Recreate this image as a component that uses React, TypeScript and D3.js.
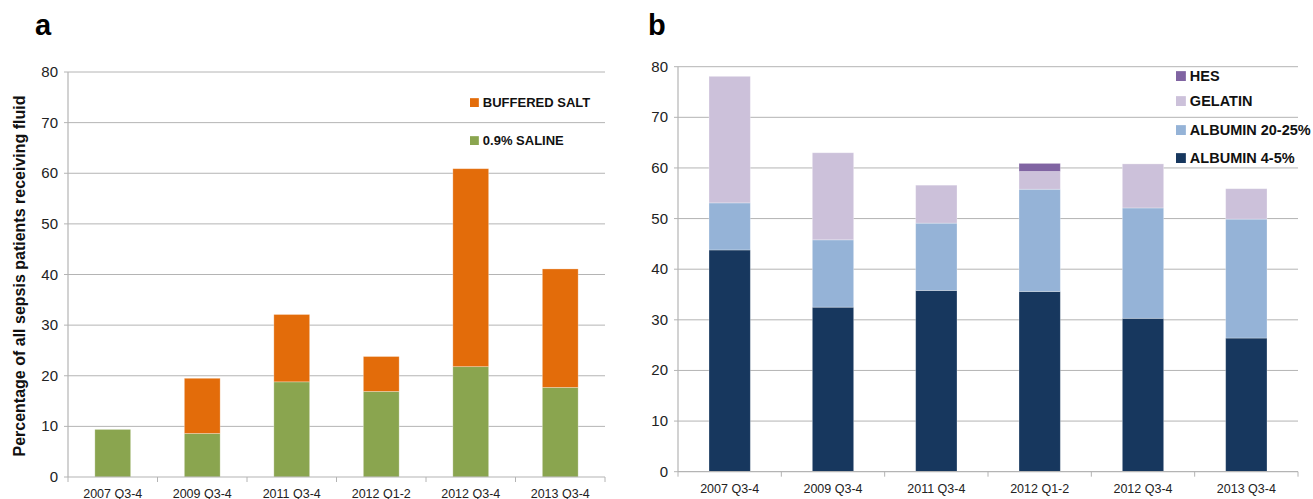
import React from "react";
import * as d3 from "d3";

// Categories shared by both panels
const periods = ["2007 Q3-4", "2009 Q3-4", "2011 Q3-4", "2012 Q1-2", "2012 Q3-4", "2013 Q3-4"];

// Panel a: crystalloids (% of sepsis patients receiving fluid)
const saline = [9.4, 8.6, 18.8, 16.9, 21.8, 17.7];
const bufferedSalt = [0, 10.9, 13.3, 6.9, 39.1, 23.4];

// Panel b: colloids
const albumin45 = [43.8, 32.5, 35.8, 35.6, 30.3, 26.4];
const albumin2025 = [9.3, 13.3, 13.3, 20.2, 21.8, 23.5];
const gelatin = [25.0, 17.2, 7.5, 3.5, 8.7, 6.0];
const hes = [0, 0, 0, 1.6, 0, 0];

const yTicks = [0, 10, 20, 30, 40, 50, 60, 70, 80];

const FONT = "'Liberation Sans', Arial, sans-serif";
const GRID = "#b4b4b4";

type Series = { key: string; label: string; color: string; values: number[] };

const seriesA: Series[] = [
  { key: "saline", label: "0.9% SALINE", color: "#8aa54f", values: saline },
  { key: "buffered", label: "BUFFERED SALT", color: "#e36c0a", values: bufferedSalt },
];

const seriesB: Series[] = [
  { key: "alb45", label: "ALBUMIN 4-5%", color: "#17375e", values: albumin45 },
  { key: "alb2025", label: "ALBUMIN 20-25%", color: "#95b3d7", values: albumin2025 },
  { key: "gelatin", label: "GELATIN", color: "#ccc1da", values: gelatin },
  { key: "hes", label: "HES", color: "#8064a2", values: hes },
];

type PanelProps = {
  series: Series[];
  x0: number;
  x1: number;
  yTop: number;
  yBottom: number;
  letter: string;
  letterX: number;
  legendX: number;
  legendYs: number[];
  legendFont: number;
  xLabelY: number;
  yTitle?: string;
};

function Panel(p: PanelProps) {
  const x = d3.scaleBand<string>().domain(periods).range([p.x0, p.x1]).paddingInner(0.6).paddingOuter(0.3);
  const y = d3.scaleLinear().domain([0, 80]).range([p.yBottom, p.yTop]);
  const rows = periods.map((c, i) => {
    const r: Record<string, number | string> = { cat: c };
    p.series.forEach((s) => (r[s.key] = s.values[i]));
    return r;
  });
  const stacked = d3.stack<Record<string, number | string>>().keys(p.series.map((s) => s.key))(rows as any);
  const step = x.step();
  const boundaries = d3.range(periods.length + 1).map((i) => p.x0 + i * step);
  const legendOrder = [...p.series].reverse();
  const sq = p.legendFont * 0.68;

  return (
    <g>
      <text x={p.letterX} y={35} fontFamily={FONT} fontWeight="bold" fontSize={29}>
        {p.letter}
      </text>
      {/* gridlines */}
      {yTicks.map((t) =>
        t === 0 ? null : (
          <line key={t} x1={p.x0} x2={p.x1} y1={y(t)} y2={y(t)} stroke={GRID} strokeWidth={1} />
        )
      )}
      {/* y axis */}
      <line x1={p.x0} x2={p.x0} y1={p.yTop} y2={p.yBottom} stroke={GRID} strokeWidth={1.2} />
      {yTicks.map((t) => (
        <g key={t}>
          <line x1={p.x0 - 4} x2={p.x0} y1={y(t)} y2={y(t)} stroke={GRID} />
          <text x={p.x0 - 10} y={y(t) + 5} textAnchor="end" fontFamily={FONT} fontSize={15} fill="#222">
            {t}
          </text>
        </g>
      ))}
      {/* bars */}
      {stacked.map((layer, li) => (
        <g key={layer.key} fill={p.series[li].color}>
          {layer.map((d, i) =>
            d[1] - d[0] > 0 ? (
              <rect
                key={i}
                x={x(periods[i])!}
                width={x.bandwidth()}
                y={y(d[1])}
                height={y(d[0]) - y(d[1])}
                stroke="#ffffff"
                strokeOpacity={0.35}
                strokeWidth={0.8}
              />
            ) : null
          )}
        </g>
      ))}
      {/* x axis */}
      <line x1={p.x0} x2={p.x1} y1={p.yBottom} y2={p.yBottom} stroke={GRID} strokeWidth={1.2} />
      {boundaries.map((b, i) => (
        <line key={i} x1={b} x2={b} y1={p.yBottom} y2={p.yBottom + 5} stroke={GRID} />
      ))}
      {periods.map((c) => (
        <text
          key={c}
          x={x(c)! + x.bandwidth() / 2}
          y={p.xLabelY}
          textAnchor="middle"
          fontFamily={FONT}
          fontSize={12.5}
          fill="#222"
        >
          {c}
        </text>
      ))}
      {/* legend */}
      {legendOrder.map((s, i) => (
        <g key={s.key}>
          <rect x={p.legendX} y={p.legendYs[i] - sq} width={sq} height={sq} fill={s.color} />
          <text
            x={p.legendX + sq + 4}
            y={p.legendYs[i]}
            fontFamily={FONT}
            fontWeight="bold"
            fontSize={p.legendFont}
            fill="#111"
          >
            {s.label}
          </text>
        </g>
      ))}
      {p.yTitle ? (
        <text
          transform={`translate(25, 276) rotate(-90)`}
          textAnchor="middle"
          fontFamily={FONT}
          fontWeight="bold"
          fontSize={16}
          fill="#111"
        >
          {p.yTitle}
        </text>
      ) : null}
    </g>
  );
}

export default function App() {
  return (
    <svg
      width={1313}
      height={499}
      style={{ position: "absolute", left: 0, top: 0, background: "#fff" }}
    >
      <rect width={1313} height={499} fill="#fff" />
      <Panel
        series={seriesA}
        x0={68}
        x1={605}
        yTop={72}
        yBottom={477}
        letter="a"
        letterX={35}
        legendX={470}
        legendYs={[107, 145]}
        legendFont={13}
        xLabelY={497.5}
        yTitle="Percentage of all sepsis patients receiving fluid"
      />
      <Panel
        series={seriesB}
        x0={678}
        x1={1298}
        yTop={66.7}
        yBottom={471.7}
        letter="b"
        letterX={648}
        legendX={1176}
        legendYs={[81, 106, 135, 163]}
        legendFont={14.5}
        xLabelY={493}
      />
    </svg>
  );
}
